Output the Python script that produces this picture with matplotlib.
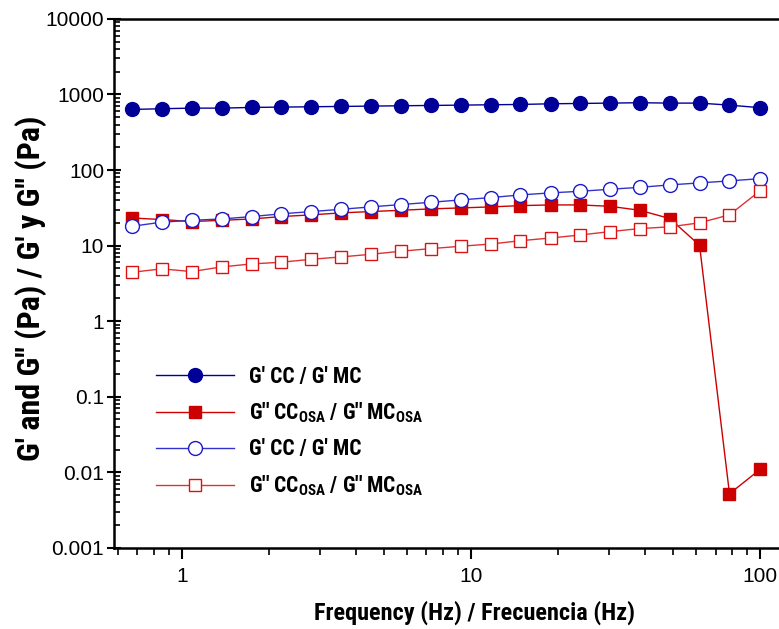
import numpy as np
import matplotlib
matplotlib.use('Agg')
import matplotlib.pyplot as plt
from matplotlib import font_manager
from matplotlib.ticker import LogLocator, FuncFormatter, NullFormatter

# frequency sweep (Hz)
freq = [0.67, 0.85, 1.08, 1.37, 1.74, 2.2, 2.8, 3.55, 4.5, 5.7, 7.25,
        9.2, 11.7, 14.8, 18.8, 23.8, 30.2, 38.3, 48.6, 61.6, 78.2, 100]

# G' CC (filled circles)
g1_cc = [633, 647, 659, 659, 673, 680, 687, 694, 701, 708, 715,
         722, 730, 737, 752, 760, 768, 777, 768, 768, 722, 667]
# G'' CC_OSA (filled squares)
g2_cc = [23.2, 22.1, 20.8, 21.6, 22.5, 24.2, 25.5, 27.1, 28.2, 29.3, 30.6,
         31.5, 32.5, 33.8, 34.5, 34.5, 33.1, 29.3, 22.8, 10.1, 0.0052, 0.011]
# G' MC (open circles)
g1_mc = [18.0, 20.4, 21.6, 22.5, 24.2, 26.3, 28.2, 30.2, 32.5, 34.9, 37.4,
         40.2, 43.2, 46.8, 49.8, 52.3, 55.6, 59.0, 63.5, 67.5, 71.8, 76.9]
# G'' MC_OSA (open squares)
g2_mc = [4.43, 4.92, 4.53, 5.22, 5.72, 6.02, 6.59, 7.08, 7.67, 8.41, 9.12,
         9.79, 10.5, 11.6, 12.6, 13.8, 15.3, 16.8, 17.7, 20.0, 25.5, 53.5]

# pick a narrow bold face if one is installed
names = {f.name for f in font_manager.fontManager.ttflist}
cond_stretch = 'normal'
cond = 'Liberation Sans'
for cand in ['Liberation Sans Narrow', 'Roboto Condensed', 'Open Sans Condensed']:
    if cand in names:
        cond = cand
        break
else:
    dv = [f for f in font_manager.fontManager.ttflist
          if f.name == 'DejaVu Sans' and 'Condensed' in f.fname and 'Bold' in f.fname]
    if dv:
        cond = 'DejaVu Sans'
        cond_stretch = 'condensed'
    elif 'Roboto' in names:
        cond = 'Roboto'

plt.rcParams['font.family'] = ['Liberation Sans', 'DejaVu Sans']
plt.rcParams['mathtext.fontset'] = 'custom'
plt.rcParams['mathtext.bf'] = cond + ':bold:stretch=' + cond_stretch
plt.rcParams['mathtext.rm'] = cond + ':bold:stretch=' + cond_stretch
bold_font = dict(family=cond, weight='bold', stretch=cond_stretch)

fig = plt.figure(figsize=(7.79, 6.29), dpi=100)
ax = fig.add_axes([0.146, 0.129, 0.854, 0.841])

sub = r"$\mathbf{_{OSA}}$"
ax.plot(freq, g1_cc, '-', color='#000099', lw=1.0, marker='o', ms=10,
        mfc='#000099', mec='#000099', label="G' CC / G' MC")
ax.plot(freq, g2_cc, '-', color='#cc0000', lw=1.0, marker='s', ms=8.5,
        mfc='#cc0000', mec='#cc0000', label="G'' CC" + sub + " / G'' MC" + sub)
ax.plot(freq, g1_mc, '-', color='#3333cc', lw=1.0, marker='o', ms=10,
        mfc='white', mec='#1a1acc', mew=1.0, label="G' CC / G' MC")
ax.plot(freq, g2_mc, '-', color='#dd3333', lw=1.0, marker='s', ms=8.5,
        mfc='white', mec='#dd1111', mew=1.0, label="G'' CC" + sub + " / G'' MC" + sub)

ax.set_xscale('log')
ax.set_yscale('log')
ax.set_xlim(0.58, 116)
ax.set_ylim(0.001, 10000)

fmt = FuncFormatter(lambda v, p: '{:g}'.format(v))
ax.xaxis.set_major_formatter(fmt)
ax.yaxis.set_major_formatter(fmt)
ax.yaxis.set_major_locator(LogLocator(base=10, numticks=20))
ax.yaxis.set_minor_locator(LogLocator(base=10, subs=np.arange(2, 10), numticks=20))
ax.yaxis.set_minor_formatter(NullFormatter())
ax.xaxis.set_minor_formatter(NullFormatter())

ax.spines['right'].set_visible(False)
for s in ['left', 'bottom', 'top']:
    ax.spines[s].set_linewidth(1.8)
ax.tick_params(axis='y', which='major', direction='inout', length=10, width=1.5,
               labelsize=15, pad=2)
ax.tick_params(axis='y', which='minor', direction='in', length=4, width=1.2)
ax.tick_params(axis='x', which='major', direction='out', length=8, width=1.5,
               labelsize=15, pad=6)
ax.tick_params(axis='x', which='minor', direction='out', length=5, width=1.2)

ax.set_xlabel('Frequency (Hz) / Frecuencia (Hz)', fontsize=17.5, **bold_font)
ax.xaxis.set_label_coords(0.543, -0.1)
ax.set_ylabel("G' and G'' (Pa) / G' y G'' (Pa)", fontsize=23, **bold_font)
ax.yaxis.set_label_coords(-0.1, 0.49)

ax.legend(loc='lower left', bbox_to_anchor=(0.035, 0.058), frameon=False,
          prop=dict(size=15.5, **bold_font),
          handlelength=3.6, labelspacing=0.6, handletextpad=0.7)

fig.savefig('out.png', dpi=100)
